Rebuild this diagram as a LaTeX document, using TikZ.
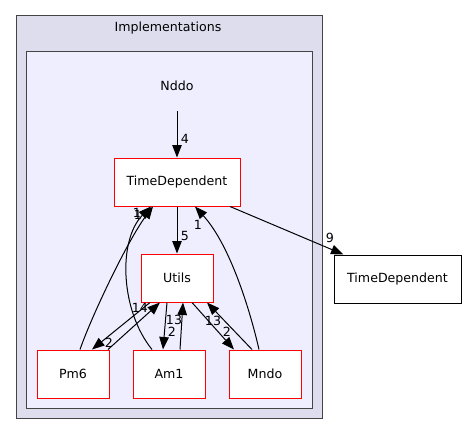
\documentclass[tikz,border=0pt]{standalone}
\usepackage{fontspec}
\setmainfont{DejaVu Sans}
\usetikzlibrary{arrows.meta}
\definecolor{outerfill}{HTML}{DDDDEE}
\definecolor{innerfill}{HTML}{EEEEFF}
\definecolor{clusterline}{HTML}{444444}
\begin{document}
\begin{tikzpicture}[x=1pt,y=-1pt,
  every node/.style={font=\fontsize{12.6}{14}\selectfont, inner sep=0pt},
  dirnode/.style={draw=red, fill=white, line width=1pt, minimum height=48pt, minimum width=72pt},
  extnode/.style={draw=black, fill=white, line width=1pt, minimum height=48pt, minimum width=127pt},
  dep/.style={draw=black, line width=1pt, -{Triangle[length=12.5pt,width=9.5pt]}},
  lbl/.style={font=\fontsize{12.6}{14}\selectfont}
]
\useasboundingbox (0,0) rectangle (465,436);
\fill[white] (0,0) rectangle (465,436);
% clusters
\draw[clusterline, fill=outerfill, line width=1pt] (16,16) rectangle (322.5,418.5);
\node (impl) at (168,28) {Implementations};
\draw[clusterline, fill=innerfill, line width=1pt] (26.5,52) rectangle (312,408);
\node[minimum height=50pt] (nddo) at (177,86) {Nddo};
% nodes
\node[dirnode, minimum width=126pt] (td) at (177,182) {TimeDependent};
\node[dirnode] (utils) at (177,278) {Utils};
\node[dirnode] (pm6) at (73,374) {Pm6};
\node[dirnode] (am1) at (169,374) {Am1};
\node[dirnode] (mndo) at (265,374) {Mndo};
\node[extnode] (ext) at (397.5,279) {TimeDependent};
% edges
\draw[dep] (nddo.south) -- (td.north);
\draw[dep] (td.south) -- (utils.north);
\draw[dep] ([xshift=53pt]td.south) -- ([xshift=-54pt]ext.north);
\draw[dep] ([xshift=7pt]pm6.north) .. controls (92,315) and (128,240) .. ([xshift=-24pt]td.south);
\draw[dep] ([xshift=-17pt]am1.north) .. controls (120,310) and (118,240) .. ([xshift=-26pt]td.south);
\draw[dep] ([xshift=-6pt]mndo.north) .. controls (250,310) and (230,245) .. ([xshift=18pt]td.south);
\draw[dep] ([xshift=-27pt]utils.south) -- ([xshift=19pt]pm6.north);
\draw[dep] ([xshift=35pt]pm6.north) -- ([xshift=-17pt]utils.south);
\draw[dep] ([xshift=-10pt]utils.south) -- ([xshift=-6pt]am1.north);
\draw[dep] ([xshift=11pt]am1.north) -- ([xshift=6pt]utils.south);
\draw[dep] ([xshift=15pt]utils.south) -- ([xshift=-31pt]mndo.north);
\draw[dep] ([xshift=-13pt]mndo.north) -- ([xshift=30pt]utils.south);
% labels
\node[lbl] (l4) at (185,139) {4};
\node[lbl] (l5) at (185,236) {5};
\node[lbl] (l9) at (330,238) {9};
\node[lbl] (l1a) at (137,213) {1};
\node[lbl] (l1b) at (138,215) {1};
\node[lbl] (l1c) at (198,225) {1};
\node[lbl] (l14) at (140,308) {14};
\node[lbl] (l2a) at (109,343) {2};
\node[lbl] (l13a) at (174,320) {13};
\node[lbl] (l2b) at (172,332) {2};
\node[lbl] (l13b) at (213,321) {13};
\node[lbl] (l2c) at (227,332) {2};
\end{tikzpicture}
\end{document}
